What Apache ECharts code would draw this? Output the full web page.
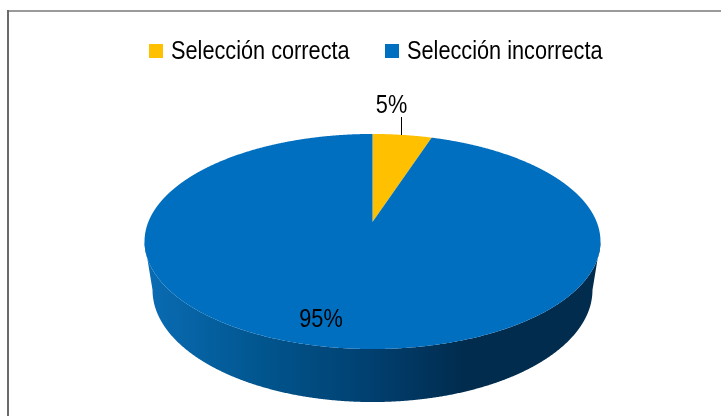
<!DOCTYPE html>
<html>
<head>
<meta charset="utf-8">
<style>
  html, body { margin: 0; padding: 0; background: #fff; }
  #main { width: 721px; height: 416px; }
</style>
<script src="https://cdn.jsdelivr.net/npm/echarts@6/dist/echarts.min.js"></script>
</head>
<body>
<div id="main"></div>
<script>
  var categories = ['Selección correcta', 'Selección incorrecta'];
  var sliceValues = [5, 95];
  var sliceLabels = ['5%', '95%'];
  var sliceColors = ['#FFC000', '#006FC0'];

  // no narrow font installed, so the text is squeezed to look like Arial Narrow
  var FONT = '"Liberation Sans", sans-serif';
  var FONT_SIZE = 26, NARROW = 0.835;

  // disc seen in perspective: the centre of the pie sits above the centre of the ellipse
  var cx = 372.5, apexY = 222, halfW = 224.2, halfH = 104, persp = 0.1813;
  var ellipseY = 241.5, wallRx = 220 / 228, wallRy = 112 / 107.5, wallY = 290;

  var total = sliceValues.reduce(function (a, b) { return a + b; }, 0);

  function topPoint(deg) {
    var t = deg * Math.PI / 180;
    var w = 1 + persp * Math.cos(t);
    return [cx + halfW * Math.sin(t) / w, apexY - halfH * Math.cos(t) / w];
  }
  function wallPoint(p) {
    return [cx + (p[0] - cx) * wallRx, wallY + (p[1] - ellipseY) * wallRy];
  }

  function makeRender(idx) {
    return function (params, api) {
      var before = 0;
      for (var i = 0; i < idx; i++) before += sliceValues[i];
      var start = before / total * 360;
      var end = start + api.value(0) / total * 360;
      var top = [[cx, apexY]], front = [];
      for (var d = start; d <= end + 0.001; d += 0.25) {
        var p = topPoint(d);
        top.push(p);
        if (p[1] >= ellipseY) front.push(p);
      }
      var children = [];
      if (front.length) {
        var back = front.map(wallPoint).reverse();
        children.push({
          type: 'polygon',
          shape: { points: front.concat(back) },
          style: {
            fill: new echarts.graphic.LinearGradient(145, 0, 600, 0, [
              { offset: 0, color: '#0A6CB4' },
              { offset: 0.25, color: '#01568F' },
              { offset: 0.5, color: '#013F6F' },
              { offset: 0.7, color: '#012C4E' },
              { offset: 1, color: '#012C4E' }
            ], true)
          }
        });
      }
      children.push({
        type: 'polygon',
        shape: { points: top },
        style: { fill: api.visual('color') }
      });
      return { type: 'group', children: children };
    };
  }

  function narrowText(text, x, y, align) {
    return {
      type: 'text', z: 10, x: x, y: y, scaleX: NARROW,
      style: { text: text, fontFamily: FONT, fontSize: FONT_SIZE, fill: '#000', align: align, verticalAlign: 'middle' }
    };
  }

  var series = categories.map(function (name, i) {
    return {
      type: 'custom',
      name: name,
      coordinateSystem: 'none',
      silent: true,
      itemStyle: { color: sliceColors[i] },
      data: [[sliceValues[i]]],
      renderItem: makeRender(i)
    };
  });

  // legend by hand: the legend component cannot squeeze its text
  var legendX = [149, 385];
  var legendItems = [];
  categories.forEach(function (name, i) {
    legendItems.push({
      type: 'rect', z: 10,
      shape: { x: legendX[i], y: 44, width: 14, height: 14 },
      style: { fill: sliceColors[i] }
    });
    legendItems.push(narrowText(name, legendX[i] + 22, 52, 'left'));
  });

  var chart = echarts.init(document.getElementById('main'));
  chart.setOption({
    animation: false,
    backgroundColor: '#fff',
    graphic: [
      // chart frame, left side is darker than the top
      { type: 'line', shape: { x1: 7, y1: 11, x2: 721, y2: 11 }, style: { stroke: '#9a9a9a', lineWidth: 2 } },
      { type: 'line', shape: { x1: 8, y1: 10, x2: 8, y2: 416 }, style: { stroke: '#6a6a6a', lineWidth: 2 } },
      // leader line of the small slice
      { type: 'line', z: 10, shape: { x1: 401.5, y1: 117, x2: 401.5, y2: 135 }, style: { stroke: '#000', lineWidth: 1 } },
      narrowText(sliceLabels[0], 391.5, 106, 'center'),
      narrowText(sliceLabels[1], 321, 319.5, 'center')
    ].concat(legendItems),
    series: series
  });
</script>
</body>
</html>
